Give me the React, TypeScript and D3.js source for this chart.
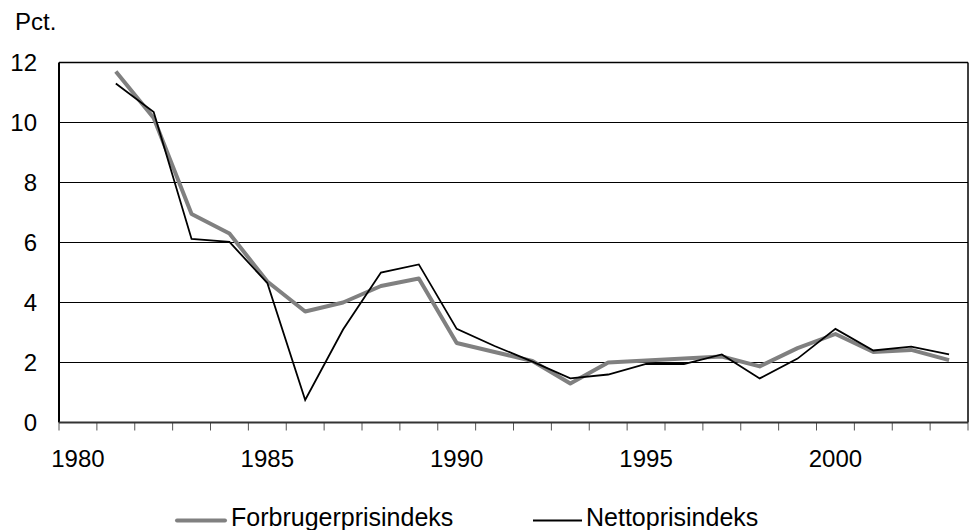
import React from "react";
import * as d3 from "d3";

const years: number[] = d3.range(1980, 2004);
const tickLabelYears: number[] = [1980, 1985, 1990, 1995, 2000];
const yTicks: number[] = [0, 2, 4, 6, 8, 10, 12];

const fpiYears: number[] = [1981, 1982, 1983, 1984, 1985, 1986, 1987, 1988, 1989, 1990, 1991, 1992, 1993, 1994, 1995, 1996, 1997, 1998, 1999, 2000, 2001, 2002, 2003];
const fpiValues: number[] = [11.7, 10.15, 6.95, 6.3, 4.7, 3.7, 4.0, 4.55, 4.8, 2.65, 2.35, 2.05, 1.3, 2.0, 2.07, 2.13, 2.2, 1.87, 2.48, 2.95, 2.35, 2.42, 2.08];
const nettoValues: number[] = [11.3, 10.35, 6.12, 6.02, 4.65, 0.75, 3.1, 5.0, 5.27, 3.12, 2.55, 2.03, 1.47, 1.6, 1.95, 1.95, 2.27, 1.47, 2.13, 3.12, 2.4, 2.53, 2.27];

const W = 972;
const H = 530;
const m = { left: 59, right: 4, top: 62.5, bottom: 107.5 };
const FONT = "'Liberation Sans', Arial, sans-serif";
const FS = 24;

export default function App() {
  const x = d3.scaleBand<number>().domain(years).range([m.left, W - m.right]).padding(0);
  const y = d3.scaleLinear().domain([0, 12]).range([H - m.bottom, m.top]);
  const cx = (yr: number) => (x(yr) as number) + x.bandwidth() / 2;

  const line = d3
    .line<[number, number]>()
    .x((d) => cx(d[0]))
    .y((d) => y(d[1]));

  const fpi: [number, number][] = fpiYears.map((yr, i) => [yr, fpiValues[i]]);
  const netto: [number, number][] = fpiYears.map((yr, i) => [yr, nettoValues[i]]);

  const x0 = m.left;
  const x1 = W - m.right;
  const yb = y(0);
  const yt = y(12);
  const tickEdges = d3.range(0, years.length + 1).map((i) => m.left + i * x.bandwidth());

  return (
    <svg
      width={W}
      height={H}
      style={{ position: "fixed", left: 0, top: 0, background: "#fff" }}
      fontFamily={FONT}
    >
      <rect x={0} y={0} width={W} height={H} fill="#fff" />
      <text x={15} y={30} fontSize={FS} fill="#000">Pct.</text>

      {yTicks.filter((t) => t > 0 && t < 12).map((t) => (
        <line key={"g" + t} x1={x0} x2={x1} y1={y(t)} y2={y(t)} stroke="#000" strokeWidth={1} />
      ))}

      {yTicks.map((t) => (
        <text key={"yl" + t} x={37} y={y(t)} dy="0.35em" textAnchor="end" fontSize={FS} fill="#000">
          {t}
        </text>
      ))}

      {tickEdges.map((tx, i) => (
        <line key={"xt" + i} x1={tx} x2={tx} y1={yb} y2={yb + 8} stroke="#555" strokeWidth={1} />
      ))}

      {tickLabelYears.map((yr) => (
        <text key={"xl" + yr} x={cx(yr)} y={467} textAnchor="middle" fontSize={FS} fill="#000">
          {yr}
        </text>
      ))}

      <path d={line(fpi) || ""} fill="none" stroke="#808080" strokeWidth={4} strokeLinejoin="round" />
      <path d={line(netto) || ""} fill="none" stroke="#000" strokeWidth={1.8} strokeLinejoin="miter" />

      <line x1={x0} x2={x1} y1={yt} y2={yt} stroke="#000" strokeWidth={1.5} />
      <line x1={x1} x2={x1} y1={yt} y2={yb} stroke="#000" strokeWidth={1.5} />
      <line x1={x0} x2={x0} y1={yt} y2={yb} stroke="#000" strokeWidth={2} />
      <line x1={x0} x2={x1} y1={yb} y2={yb} stroke="#333" strokeWidth={2} />

      <line x1={177} x2={225} y1={520.5} y2={520.5} stroke="#808080" strokeWidth={4} strokeLinecap="round" />
      <text x={231} y={526} fontSize={25} fill="#000">Forbrugerprisindeks</text>
      <line x1={533} x2={582} y1={520.5} y2={520.5} stroke="#000" strokeWidth={1.8} />
      <text x={586} y={526} fontSize={25} fill="#000">Nettoprisindeks</text>
    </svg>
  );
}
